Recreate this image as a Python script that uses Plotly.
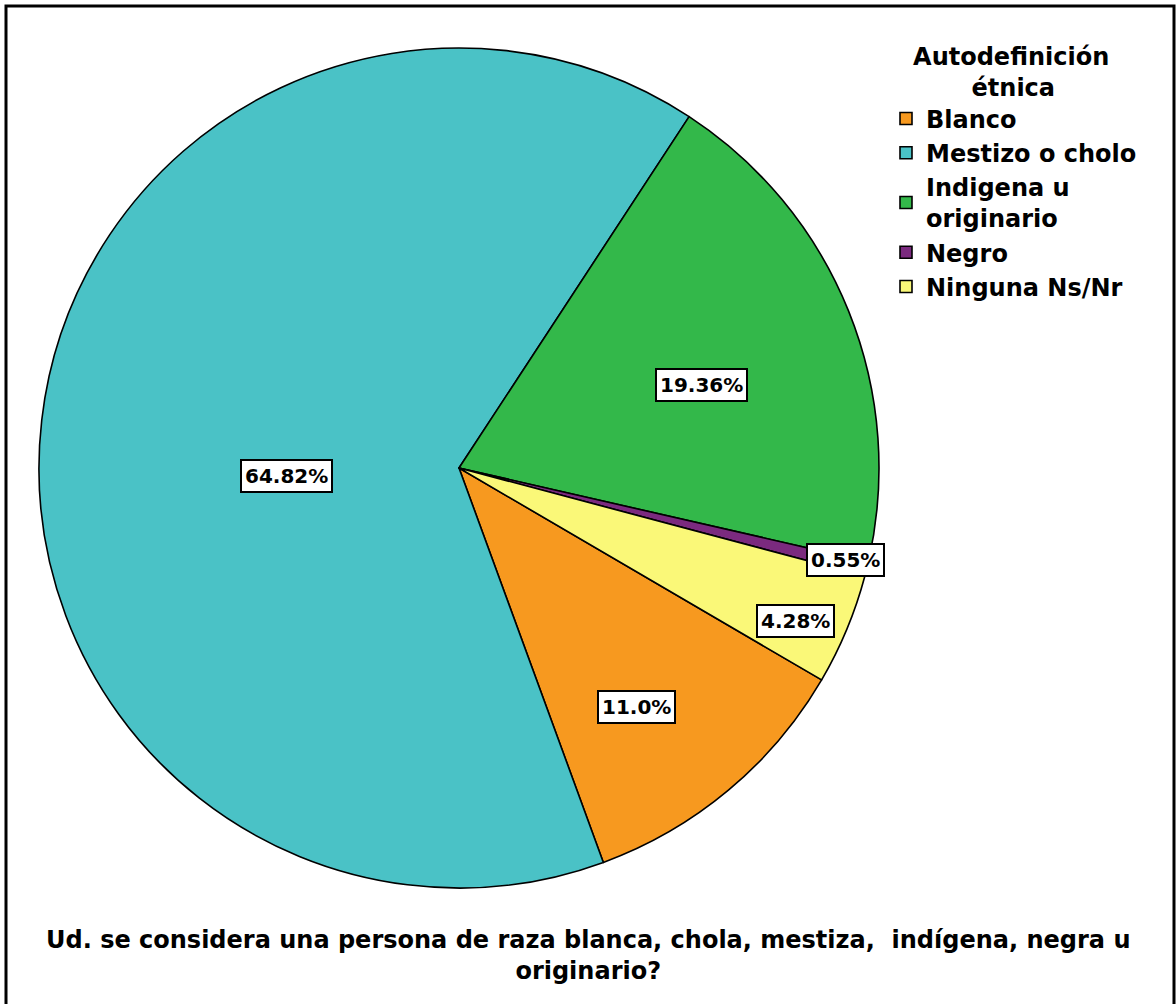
import math
import plotly.graph_objects as go

# ---- data ----
categories = ["Blanco", "Mestizo o cholo", "Indigena u<br>originario", "Negro", "Ninguna Ns/Nr"]
percentages = [11.0, 64.82, 19.36, 0.55, 4.28]
label_texts = ["11.0%", "64.82%", "19.36%", "0.55%", "4.28%"]
colors = ["#F7991F", "#4AC2C6", "#33B84A", "#7B2A7F", "#FAF878"]

# ---- layout / style constants ----
W, H = 1176, 1004
CX, CY, R = 459, 468, 420          # pie centre / radius in pixels
ROTATION = 120.3                   # start angle of first slice (clockwise from 12 o'clock)
label_frac = [0.71, 0.41, 0.61, 0.945, 0.88]   # radial placement of labels
label_shift = [3.3, -9.2, 3.1, -0.5, 1.9]      # angular nudge of labels (deg)
FONT = "DejaVu Sans"

fig = go.Figure()
fig.add_trace(go.Pie(
    labels=categories,
    values=percentages,
    sort=False,
    direction="clockwise",
    rotation=ROTATION,
    marker=dict(colors=colors, line=dict(color="black", width=1.6)),
    textinfo="none",
    hoverinfo="label+percent",
    domain=dict(x=[(CX - R) / W, (CX + R) / W],
                y=[1 - (CY + R) / H, 1 - (CY - R) / H]),
))

# percentage labels in boxes, placed from the slice mid-angles
total = sum(percentages)
start = ROTATION
annotations = []
for i, v in enumerate(percentages):
    span = v / total * 360.0
    mid = math.radians(start + span / 2 + label_shift[i])
    start += span
    px = CX + label_frac[i] * R * math.sin(mid)
    py = CY - label_frac[i] * R * math.cos(mid)
    annotations.append(dict(
        x=px / W, y=1 - py / H, xref="paper", yref="paper",
        text="<b>%s</b>" % label_texts[i], showarrow=False,
        font=dict(family=FONT, size=20, color="black"),
        bgcolor="white", bordercolor="black", borderwidth=2, borderpad=3,
        xanchor="center", yanchor="middle",
    ))

annotations.append(dict(
    x=0.5, y=1 - 955 / H, xref="paper", yref="paper",
    text="<b>Ud. se considera una persona de raza blanca, chola, mestiza,&nbsp; indígena, negra u<br>originario?</b>",
    showarrow=False, align="center",
    font=dict(family=FONT, size=24, color="black"),
    xanchor="center", yanchor="middle",
))

fig.update_layout(
    width=W, height=H,
    margin=dict(l=0, r=0, t=0, b=0),
    paper_bgcolor="white",
    font=dict(family=FONT, color="black"),
    showlegend=True,
    legend=dict(
        x=886 / W, y=1 - 34 / H, xanchor="left", yanchor="top",
        title=dict(text="<b>&nbsp;&nbsp;&nbsp;Autodefinición<br>"
                        "&nbsp;&nbsp;&nbsp;&nbsp;&nbsp;&nbsp;&nbsp;&nbsp;&nbsp;&nbsp;étnica</b>",
                   side="top",
                   font=dict(family=FONT, size=24, color="black")),
        font=dict(family=FONT, size=24, color="black", weight="bold"),
        bgcolor="rgba(0,0,0,0)",
    ),
    annotations=annotations,
    shapes=[dict(type="rect", xref="paper", yref="paper",
                 x0=6 / W, x1=1174 / W, y0=-0.02, y1=1 - 6 / H,
                 line=dict(color="black", width=3), fillcolor="rgba(0,0,0,0)")],
)

fig.write_html("out.html", config={"displayModeBar": False},
               post_script="document.body.style.margin='0px';document.body.style.overflow='hidden';")
